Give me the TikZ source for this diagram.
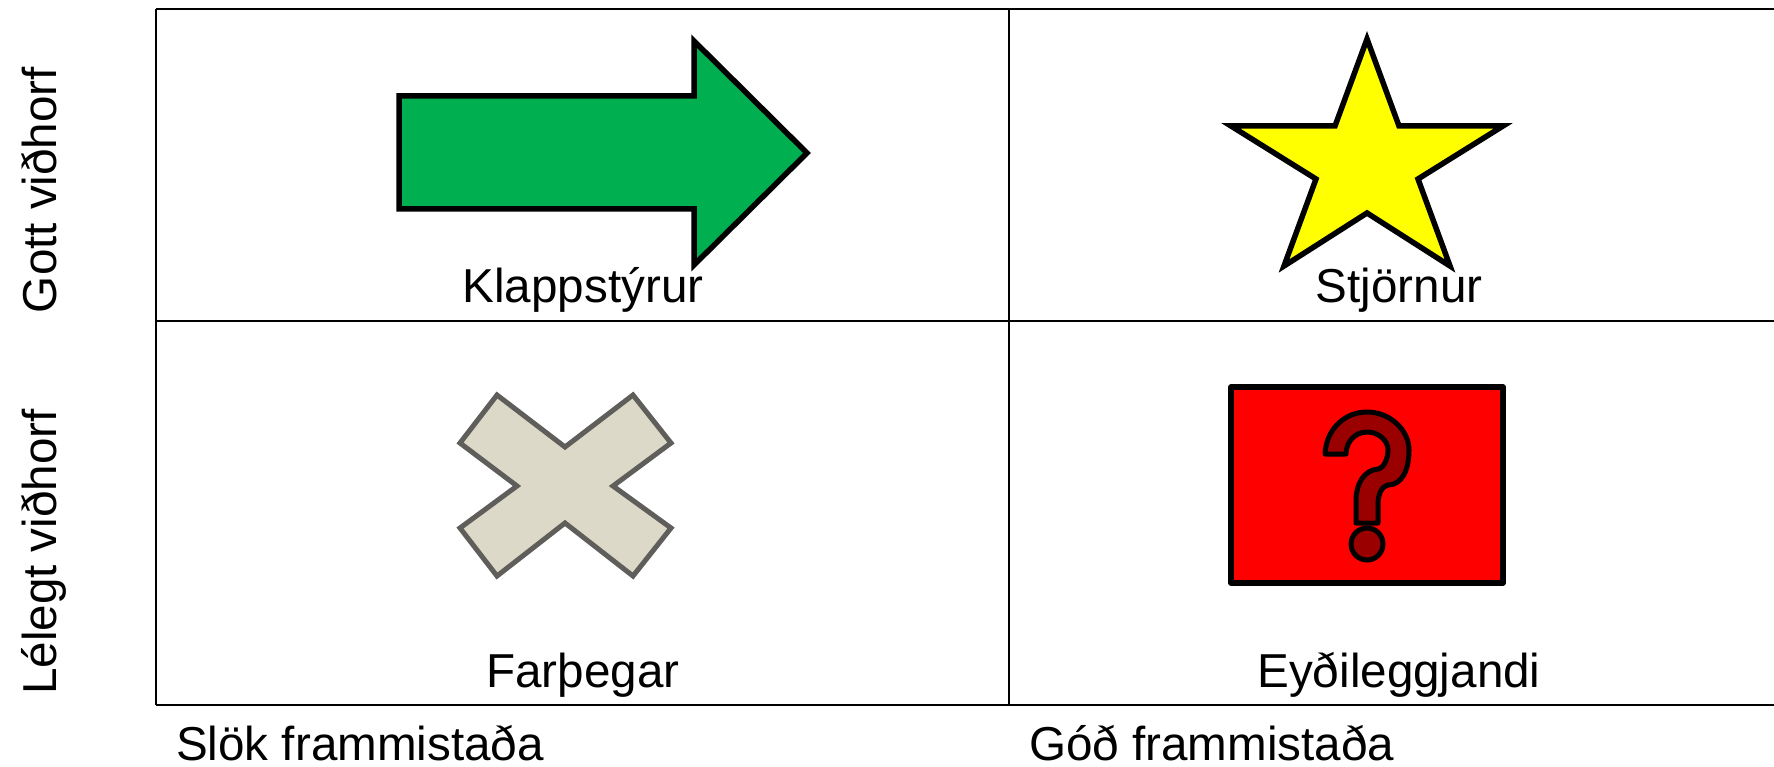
\documentclass[tikz,border=0pt]{standalone}
\usepackage{fontspec}
\setmainfont{Liberation Sans}
\tikzset{
 x=1pt,y=-1pt,
 grid/.style={draw=black,line width=2.8pt},
 shp/.style={draw=black,line width=5.5pt,miter limit=10,line join=miter},
 lbl/.style={inner sep=0pt,font=\fontsize{47.6}{48}\selectfont,text=black,anchor=base},
}
\definecolor{gr}{RGB}{0,175,80}
\definecolor{yel}{RGB}{255,255,0}
\definecolor{rd}{RGB}{255,0,0}
\definecolor{crossf}{RGB}{221,217,200}
\definecolor{crossd}{RGB}{95,94,90}
\definecolor{qm}{RGB}{154,0,0}
\begin{document}
\begin{tikzpicture}
\useasboundingbox (0,0) rectangle (1774,767);
\fill[white] (0,0) rectangle (1774,767);
\draw[grid] (156,9) -- (1774,9);
\draw[grid] (156,321) -- (1774,321);
\draw[grid] (156,705) -- (1774,705);
\draw[grid] (156,9) -- (156,705);
\draw[grid] (1009,9) -- (1009,705);
\draw[shp,fill=gr] (399,96) -- (694,96) -- (694,41) -- (807,153) -- (694,265) -- (694,209) -- (399,209) -- cycle;
\draw[shp,fill=yel] (1367,39) -- (1399,126) -- (1503,126) -- (1418,179) -- (1450,266) -- (1367,213) -- (1284,266) -- (1316,179) -- (1231,126) -- (1335,126) -- cycle;
\draw[draw=crossd,line width=5pt,fill=crossf] (497,395) -- (565,447) -- (633,395) -- (671,443) -- (613,486) -- (671,528) -- (633,576) -- (565,523) -- (497,576) -- (460,528) -- (517,486) -- (460,443) -- cycle;
\draw[shp,fill=rd,line join=round] (1231,387) rectangle (1503,583);
\draw[draw=black,line width=5pt,fill=qm,line join=round] (1325,454) .. controls (1326,430) and (1344,412) .. (1367,412) .. controls (1390,412) and (1409,430) .. (1409,450) .. controls (1409,470) and (1402,485) .. (1388,485) .. controls (1382,486) and (1378,494) .. (1378,504) -- (1378,523) -- (1356,523) -- (1356,500) .. controls (1356,484) and (1364,470) .. (1378,469) .. controls (1384,468) and (1388,458) .. (1388,450) .. controls (1388,440) and (1378,432) .. (1367,432) .. controls (1355,432) and (1346,442) .. (1346,454) -- cycle;
\draw[draw=black,line width=5pt,fill=qm] (1367,544) circle[radius=16];
\node[lbl] (a) at (583,302) {Klappstýrur};
\node[lbl] (b) at (1399,302) {Stjörnur};
\node[lbl] (c) at (583,687) {Farþegar};
\node[lbl] (d) at (1399,687) {Eyðileggjandi};
\node[lbl,anchor=base west] (e) at (176,760) {Slök frammistaða};
\node[lbl,anchor=base west] (f) at (1029,760) {Góð frammistaða};
\node[lbl,rotate=90] (g) at (56,190) {Gott viðhorf};
\node[lbl,rotate=90] (h) at (56,552) {Lélegt viðhorf};
\end{tikzpicture}
\end{document}
